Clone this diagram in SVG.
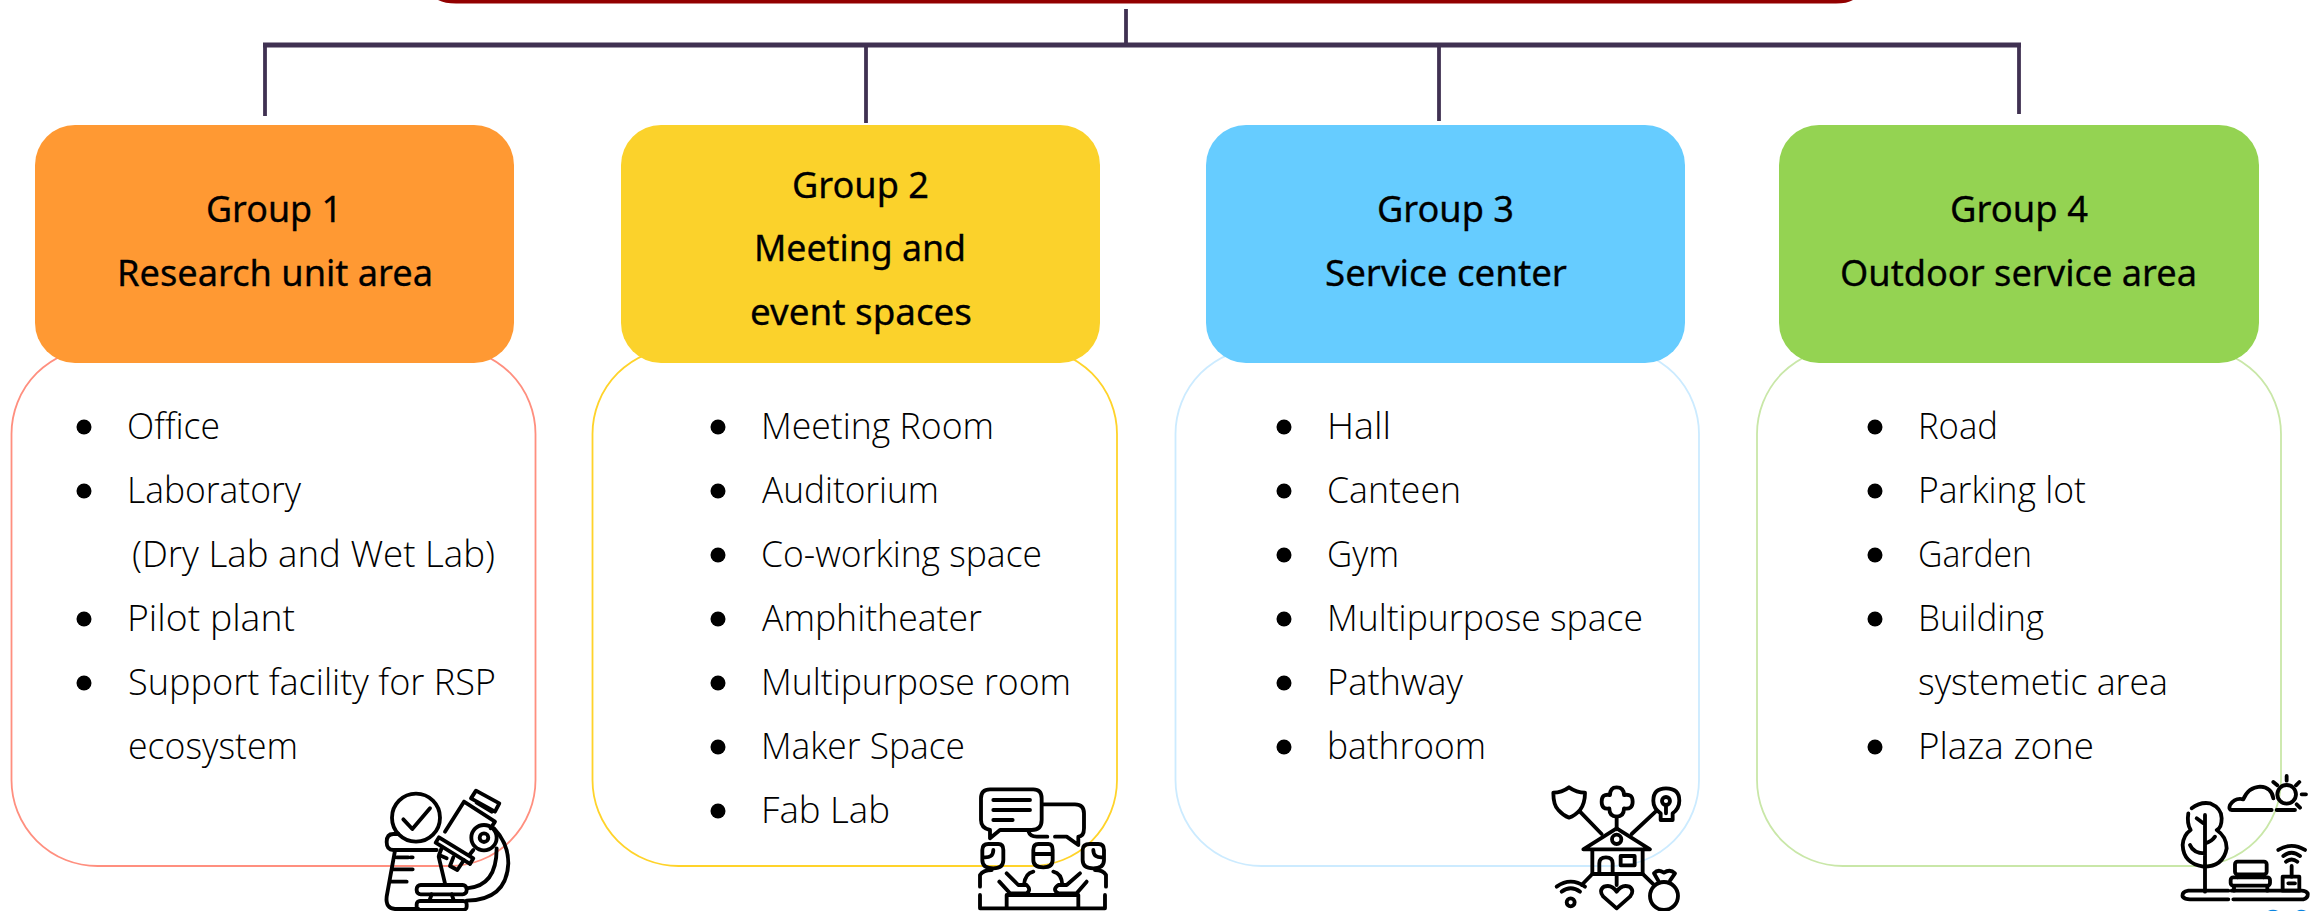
<svg xmlns="http://www.w3.org/2000/svg" width="2313" height="911" viewBox="0 0 2313 911">
<style>
.hd{font-family:"Noto Sans","Open Sans",sans-serif;font-weight:400;font-size:36px;fill:#000;stroke:#000;stroke-width:.3}
.it{font-family:"Open Sans","Noto Sans",sans-serif;font-weight:300;font-size:36px;fill:#000}
.panel{fill:none;stroke-width:1.8}
.bul{fill:#000}
.ic{fill:none;stroke:#000;stroke-width:11.5;stroke-linecap:round;stroke-linejoin:round}
.cn{fill:none;stroke:#403152;stroke-width:3.8}
</style>
<rect width="2313" height="911" fill="#fff"/>
<g id="title"><path d="M438,0 Q445,3.600 456,3.600 H1836 Q1847,3.600 1853,0 Z" fill="#920000"/></g>
<g id="connectors" class="cn">
<path d="M1126,9 V45"/>
<path d="M263,45 H2021" stroke-width="5"/>
<path d="M265,45 V116"/>
<path d="M866,45 V123"/>
<path d="M1439,45 V121"/>
<path d="M2019,45 V114"/>
</g>
<g id="group1">
<rect class="panel" x="11.500" y="348" width="524" height="518" rx="86" stroke="#FF8F7F"/>
<rect x="35" y="125" width="479" height="238" rx="40" fill="#FF9933"/>
<text class="hd" x="206" y="222" textLength="136" lengthAdjust="spacingAndGlyphs">Group 1</text>
<text class="hd" x="117" y="286" textLength="316" lengthAdjust="spacingAndGlyphs">Research unit area</text>
<circle class="bul" cx="84" cy="427" r="7.500"/><text class="it" x="127" y="438.500" textLength="93" lengthAdjust="spacingAndGlyphs">Office</text>
<circle class="bul" cx="84" cy="491" r="7.500"/><text class="it" x="127" y="502.500" textLength="174" lengthAdjust="spacingAndGlyphs">Laboratory</text>
<text class="it" x="132" y="566.500" textLength="363" lengthAdjust="spacingAndGlyphs">(Dry Lab and Wet Lab)</text>
<circle class="bul" cx="84" cy="619" r="7.500"/><text class="it" x="127" y="630.500" textLength="168" lengthAdjust="spacingAndGlyphs">Pilot plant</text>
<circle class="bul" cx="84" cy="683" r="7.500"/><text class="it" x="128" y="694.500" textLength="368" lengthAdjust="spacingAndGlyphs">Support facility for RSP</text>
<text class="it" x="128" y="758.500" textLength="170" lengthAdjust="spacingAndGlyphs">ecosystem</text>
<g class="ic" transform="translate(340 760) scale(.3333)">
<circle cx="228" cy="173" r="72"/><path d="M190,178 L217,207 L270,145"/>
<path d="M175,222 H160 Q140,222 140,246 Q140,270 160,270 H290"/>
<path d="M165,272 L140,410 Q136,445 165,447 H235 M296,290 L315,370 M170,292 H205 M212,292 H218 M160,328 H218 M150,365 H200"/>
<path d="M372,125 L315,215 M372,125 L465,185 L452,205 M400,270 L388,285"/>
<path d="M297,232 L400,295 L390,312 L287,248 Z M408,92 L478,130 L465,155 L393,115 Z M410,128 L455,155"/>
<path d="M305,265 L297,285 L320,295 M340,292 L330,318 L352,330 L372,300"/>
<circle cx="432" cy="233" r="38"/><circle cx="432" cy="233" r="13"/>
<path d="M462,205 Q505,250 505,310 Q500,420 380,422 M470,265 Q470,380 380,385"/>
<rect x="230" y="375" width="150" height="28" rx="12"/><rect x="230" y="423" width="150" height="27" rx="10"/>
<path d="M275,403 L268,423 M335,403 L342,423"/>
</g>
</g>
<g id="group2">
<rect class="panel" x="592.500" y="348" width="524.500" height="518" rx="86" stroke="#FFD32A"/>
<rect x="621" y="125" width="479" height="238" rx="40" fill="#FBD22B"/>
<text class="hd" x="792" y="198" textLength="137" lengthAdjust="spacingAndGlyphs">Group 2</text>
<text class="hd" x="754" y="261" textLength="212" lengthAdjust="spacingAndGlyphs">Meeting and</text>
<text class="hd" x="750" y="325" textLength="222" lengthAdjust="spacingAndGlyphs">event spaces</text>
<circle class="bul" cx="718" cy="427" r="7.500"/><text class="it" x="761" y="438.500" textLength="233" lengthAdjust="spacingAndGlyphs">Meeting Room</text>
<circle class="bul" cx="718" cy="491" r="7.500"/><text class="it" x="762" y="502.500" textLength="177" lengthAdjust="spacingAndGlyphs">Auditorium</text>
<circle class="bul" cx="718" cy="555" r="7.500"/><text class="it" x="761" y="566.500" textLength="281" lengthAdjust="spacingAndGlyphs">Co-working space</text>
<circle class="bul" cx="718" cy="619" r="7.500"/><text class="it" x="762" y="630.500" textLength="220" lengthAdjust="spacingAndGlyphs">Amphitheater</text>
<circle class="bul" cx="718" cy="683" r="7.500"/><text class="it" x="761" y="694.500" textLength="310" lengthAdjust="spacingAndGlyphs">Multipurpose room</text>
<circle class="bul" cx="718" cy="747" r="7.500"/><text class="it" x="761" y="758.500" textLength="204" lengthAdjust="spacingAndGlyphs">Maker Space</text>
<circle class="bul" cx="718" cy="811" r="7.500"/><text class="it" x="761" y="822.500" textLength="129" lengthAdjust="spacingAndGlyphs">Fab Lab</text>
<g class="ic" transform="translate(950 770) scale(.3333)">
<path d="M120,58 H250 Q275,58 275,85 V150 Q275,180 245,180 H150 L120,205 V180 Q93,175 93,150 V85 Q93,58 120,58 Z"/>
<path d="M130,90 H240 M130,120 H240 M130,150 H188"/>
<path d="M280,103 H375 Q402,103 402,130 V175 Q402,200 385,200 V225 L350,200 H315 M292,200 H260 Q240,200 235,183"/>
<path d="M115,222 H145 Q160,222 160,240 V270 Q160,295 130,295 Q97,295 97,270 V240 Q97,222 115,222 Z M100,262 Q130,265 130,240"/>
<path d="M125,300 Q100,300 90,315 V350 M90,375 V415 H465 V375 M148,335 L180,370 H230 Q245,360 230,345 H205 L170,310"/>
<path d="M250,240 Q250,222 265,222 H295 Q308,222 308,240 V270 Q308,292 280,292 Q250,292 250,270 Z M250,252 H308"/>
<path d="M250,305 Q225,310 222,345 M310,305 Q335,310 337,345 M170,375 V412 M385,375 V412 M170,375 H385"/>
<path d="M420,222 H445 Q462,222 462,240 V270 Q462,295 430,295 Q398,295 398,270 V240 Q398,222 420,222 Z M460,262 Q430,265 430,240"/>
<path d="M435,300 Q460,300 468,315 V350 M410,335 L380,370 H325 Q305,360 325,345 H350 L390,310"/>
</g>
</g>
<g id="group3">
<rect class="panel" x="1175.500" y="348" width="523.500" height="518" rx="86" stroke="#CCEBFF"/>
<rect x="1206" y="125" width="479" height="238" rx="40" fill="#66CCFF"/>
<text class="hd" x="1377" y="222" textLength="137" lengthAdjust="spacingAndGlyphs">Group 3</text>
<text class="hd" x="1325" y="286" textLength="242" lengthAdjust="spacingAndGlyphs">Service center</text>
<circle class="bul" cx="1284" cy="427" r="7.500"/><text class="it" x="1327" y="438.500" textLength="64" lengthAdjust="spacingAndGlyphs">Hall</text>
<circle class="bul" cx="1284" cy="491" r="7.500"/><text class="it" x="1327" y="502.500" textLength="134" lengthAdjust="spacingAndGlyphs">Canteen</text>
<circle class="bul" cx="1284" cy="555" r="7.500"/><text class="it" x="1327" y="566.500" textLength="72" lengthAdjust="spacingAndGlyphs">Gym</text>
<circle class="bul" cx="1284" cy="619" r="7.500"/><text class="it" x="1327" y="630.500" textLength="316" lengthAdjust="spacingAndGlyphs">Multipurpose space</text>
<circle class="bul" cx="1284" cy="683" r="7.500"/><text class="it" x="1327" y="694.500" textLength="136" lengthAdjust="spacingAndGlyphs">Pathway</text>
<circle class="bul" cx="1284" cy="747" r="7.500"/><text class="it" x="1327" y="758.500" textLength="159" lengthAdjust="spacingAndGlyphs">bathroom</text>
<g class="ic" transform="translate(1530 770) scale(.3333)">
<path d="M117,52 Q95,68 70,68 Q70,105 85,120 Q100,137 117,143 Q135,137 150,120 Q165,100 165,68 Q140,68 117,52 Z"/>
<path d="M240,75 Q240,52 260,52 Q282,52 282,75 Q308,70 308,95 Q308,120 282,115 Q282,140 260,140 Q238,140 238,115 Q215,120 215,95 Q215,70 240,75 Z"/>
<path d="M392,130 Q370,115 370,92 Q370,55 408,55 Q448,55 448,92 Q448,115 428,130 V150 H392 Z M408,105 V130"/>
<circle cx="408" cy="93" r="12"/>
<path d="M150,125 L215,192 M260,140 V178 M380,122 L305,192"/>
<path d="M160,238 L260,175 L360,238 Z"/><circle cx="260" cy="208" r="14"/>
<path d="M187,240 V312 H338 V240 M208,310 V280 Q208,262 228,262 Q248,262 248,280 V310"/>
<rect x="272" y="258" width="42" height="28"/>
<path d="M260,315 V345 M187,312 L155,345 M338,312 L372,345"/>
<path d="M260,415 L220,380 Q205,362 222,350 Q245,342 260,365 Q275,342 298,350 Q315,362 300,380 Z"/>
<circle cx="402" cy="378" r="42"/><path d="M385,332 L372,310 Q385,295 402,308 Q420,295 435,310 L420,332"/>
<circle cx="122" cy="397" r="12"/><path d="M95,365 Q122,345 150,365 M80,350 Q122,320 165,350"/>
</g>
</g>
<g id="group4">
<rect class="panel" x="1757" y="348" width="524" height="518" rx="86" stroke="#C9E7A8"/>
<rect x="1779" y="125" width="480" height="238" rx="40" fill="#94D352"/>
<text class="hd" x="1950" y="222" textLength="138" lengthAdjust="spacingAndGlyphs">Group 4</text>
<text class="hd" x="1840" y="286" textLength="357" lengthAdjust="spacingAndGlyphs">Outdoor service area</text>
<circle class="bul" cx="1875" cy="427" r="7.500"/><text class="it" x="1918" y="438.500" textLength="80" lengthAdjust="spacingAndGlyphs">Road</text>
<circle class="bul" cx="1875" cy="491" r="7.500"/><text class="it" x="1918" y="502.500" textLength="168" lengthAdjust="spacingAndGlyphs">Parking lot</text>
<circle class="bul" cx="1875" cy="555" r="7.500"/><text class="it" x="1918" y="566.500" textLength="114" lengthAdjust="spacingAndGlyphs">Garden</text>
<circle class="bul" cx="1875" cy="619" r="7.500"/><text class="it" x="1918" y="630.500" textLength="126" lengthAdjust="spacingAndGlyphs">Building</text>
<text class="it" x="1918" y="694.500" textLength="250" lengthAdjust="spacingAndGlyphs">systemetic area</text>
<circle class="bul" cx="1875" cy="747" r="7.500"/><text class="it" x="1918" y="758.500" textLength="176" lengthAdjust="spacingAndGlyphs">Plaza zone</text>
<g class="ic" transform="translate(2160 760) scale(.3333)">
<path d="M335,150 H215 Q205,150 210,135 Q225,112 250,118 Q265,82 300,80 Q335,82 340,115 M350,150 H405"/>
<circle cx="380" cy="103" r="28"/>
<path d="M380,48 V62 M340,66 L352,76 M418,66 L408,76 M425,103 H438 M410,133 L420,143"/>
<path d="M135,165 V395 M110,175 L130,190 M135,250 Q155,245 165,230 M90,255 Q100,280 135,280"/>
<path d="M95,145 Q120,125 150,130 Q185,145 185,175 Q185,205 170,210 Q200,230 200,265 Q190,320 130,320 Q70,310 68,255 Q70,225 92,210 Q80,190 85,160"/>
<path d="M205,392 H85 Q65,395 68,410 Q75,418 90,418 H205 M220,418 H430 Q445,415 443,400 Q438,392 425,392 H215"/>
<rect x="225" y="305" width="95" height="38" rx="8"/><rect x="212" y="352" width="118" height="25" rx="8"/>
<path d="M232,345 V352 M310,345 V352 M222,378 V392 M322,378 V392"/>
<rect x="368" y="350" width="50" height="42"/>
<path d="M385,370 H405 M395,318 V350 M378,305 Q395,292 412,305 M370,288 Q395,268 420,288 M355,270 Q395,245 435,270"/>
</g>
<path d="M2268,911 Q2273,908.500 2278,911 Z M2297,911 Q2301,908.500 2306,911 Z" fill="#0A84E0"/>
</g>
</svg>
